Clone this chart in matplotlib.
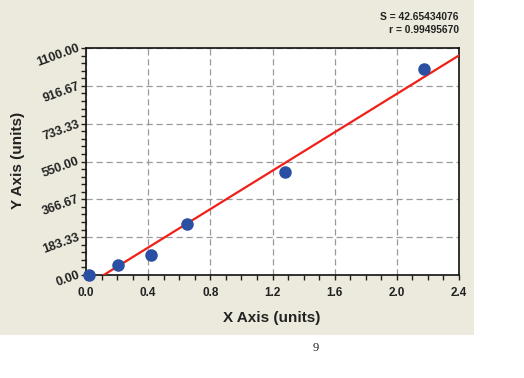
import matplotlib
matplotlib.use("Agg")
import matplotlib.pyplot as plt
import numpy as np
from matplotlib.patches import Rectangle
from matplotlib.ticker import MultipleLocator, FixedLocator

# Data
x_vals = [0.017, 0.208, 0.418, 0.652, 1.282, 2.173]
y_vals = [0, 48, 95, 245, 497, 998]
fit_x = [0.114, 2.4]
fit_y = [0, 1064]
x_ticks = [0.0, 0.4, 0.8, 1.2, 1.6, 2.0, 2.4]
x_tick_labels = ["0.0", "0.4", "0.8", "1.2", "1.6", "2.0", "2.4"]
y_ticks = [0, 183.33, 366.67, 550, 733.33, 916.67, 1100]
y_tick_labels = ["0.00", "183.33", "366.67", "550.00", "733.33", "916.67", "1100.00"]
stats_text = ["S = 42.65434076", "r = 0.99495670"]

W, H = 524, 378
plt.rcParams['font.family'] = ['Liberation Sans', 'DejaVu Sans']
fig = plt.figure(figsize=(W / 100, H / 100), dpi=100, facecolor="white")

# beige panel
fig.patches.append(Rectangle((0, 1 - 335 / H), 474 / W, 335 / H, transform=fig.transFigure,
                             facecolor="#ECEADC", edgecolor="none", zorder=-10))

left, right, top, bottom = 86, 459, 48, 275
ax = fig.add_axes([left / W, 1 - bottom / H, (right - left) / W, (bottom - top) / H])
ax.set_facecolor("white")
ax.set_xlim(0, 2.4)
ax.set_ylim(0, 1100)

ax.plot(fit_x, fit_y, color="#F02018", lw=1.6, zorder=3, clip_on=True)
ax.plot(x_vals, y_vals, "o", color="#2B4FA3", markersize=8, zorder=4, clip_on=False)

ax.xaxis.set_major_locator(FixedLocator(x_ticks))
ax.set_xticklabels(x_tick_labels, fontsize=8.5, fontweight="bold", color="#222222")
ax.xaxis.set_minor_locator(MultipleLocator(0.1))
ax.yaxis.set_major_locator(FixedLocator(y_ticks))
ax.set_yticklabels(y_tick_labels, fontsize=9, fontweight="bold", color="#222222",
                   rotation=20, rotation_mode="anchor", ha="right", va="center")
ax.yaxis.set_minor_locator(MultipleLocator(1100 / 30))

ax.tick_params(which="both", direction="out", length=3.5, width=1, color="#222222")
ax.tick_params(axis="x", which="major", pad=5.5)
ax.tick_params(axis="y", which="major", pad=1.5)

ax.grid(True, which="major", color="#9A9A9A", linestyle=(0, (5, 3)), lw=0.9)
ax.set_axisbelow(True)
for s in ax.spines.values():
    s.set_color("#111111")
    s.set_linewidth(1.2)

fig.text(272 / W, 1 - 318 / H, "X Axis (units)", ha="center", va="center",
         fontsize=11, fontweight="bold", color="#222222")
fig.text(18 / W, 1 - 160 / H, "Y Axis (units)", ha="center", va="center",
         rotation=90, fontsize=11, fontweight="bold", color="#222222")
fig.text(459 / W, 1 - 17 / H, stats_text[0], ha="right", va="center",
         fontsize=7.4, fontweight="bold", color="#222222")
fig.text(459 / W, 1 - 30 / H, stats_text[1], ha="right", va="center",
         fontsize=7.4, fontweight="bold", color="#222222")
fig.text(316 / W, 1 - 348 / H, "9", ha="center", va="center",
         fontsize=9, family=["Liberation Serif", "DejaVu Serif"], color="#222222")

fig.savefig("out.png", dpi=100, facecolor="white")
